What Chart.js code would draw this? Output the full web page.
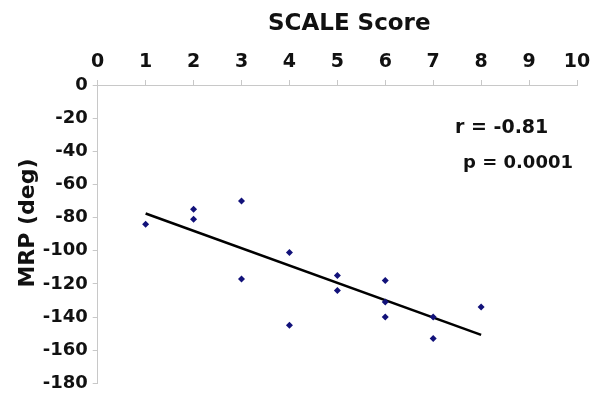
<!DOCTYPE html>
<html>
<head>
<meta charset="utf-8">
<script src="https://cdn.jsdelivr.net/npm/chart.js@4/dist/chart.umd.min.js"></script>
<style>
  html, body { margin: 0; padding: 0; background: #fff; }
  #wrap { width: 600px; height: 394px; }
</style>
</head>
<body>
<div id="wrap"><canvas id="chart"></canvas></div>
<script>
// SCALE score vs MRP
const scaleScores = [1, 2, 2, 3, 3, 4, 4, 5, 5, 6, 6, 6, 7, 7, 8];
const mrpValues = [-84, -75, -81, -70, -117, -101, -145, -115, -124, -118, -131, -140, -140, -153, -134];
const xTicks = [0, 1, 2, 3, 4, 5, 6, 7, 8, 9, 10];
const yTicks = [0, -20, -40, -60, -80, -100, -120, -140, -160, -180];
const statsText = ['r = -0.81', 'p = 0.0001'];

const FONT = '"DejaVu Sans", sans-serif';

// least squares fit for the trend line
function linearFit(xs, ys) {
    const n = xs.length;
    const mx = xs.reduce((a, b) => a + b, 0) / n;
    const my = ys.reduce((a, b) => a + b, 0) / n;
    let sxy = 0, sxx = 0;
    for (let i = 0; i < n; i++) {
        sxy += (xs[i] - mx) * (ys[i] - my);
        sxx += (xs[i] - mx) * (xs[i] - mx);
    }
    const slope = sxy / sxx;
    return { slope: slope, intercept: my - slope * mx };
}

const fit = linearFit(scaleScores, mrpValues);
const xMin = Math.min(...scaleScores);
const xMax = Math.max(...scaleScores);
const trend = [xMin, xMax].map(x => ({ x: x, y: fit.intercept + fit.slope * x }));

const points = scaleScores.map((x, i) => ({ x: x, y: mrpValues[i] }));

// axis titles and the r / p note
const textPlugin = {
    id: 'textLabels',
    afterDraw(chart) {
        const ctx = chart.ctx;
        ctx.save();
        ctx.fillStyle = '#111';
        ctx.textAlign = 'left';
        ctx.textBaseline = 'alphabetic';

        ctx.font = 'bold 23px ' + FONT;
        ctx.fillText('SCALE Score', 268, 30);

        ctx.font = 'bold 19px ' + FONT;
        ctx.fillText(statsText[0], 455, 133);
        ctx.font = 'bold 18px ' + FONT;
        ctx.fillText(statsText[1], 463, 168);

        ctx.translate(28, 223);
        ctx.rotate(-Math.PI / 2);
        ctx.textAlign = 'center';
        ctx.textBaseline = 'middle';
        ctx.font = 'bold 22px ' + FONT;
        ctx.fillText('MRP (deg)', 0, 0);
        ctx.restore();
    }
};

new Chart(document.getElementById('chart'), {
    type: 'scatter',
    data: {
        datasets: [
            {
                label: 'MRP',
                data: points,
                pointStyle: 'rectRot',
                pointRadius: 3.5,
                backgroundColor: '#12127a',
                borderColor: '#12127a',
                borderWidth: 0
            },
            {
                type: 'line',
                label: 'fit',
                data: trend,
                borderColor: '#000',
                borderWidth: 2.5,
                pointRadius: 0,
                fill: false
            }
        ]
    },
    options: {
        responsive: true,
        maintainAspectRatio: false,
        animation: false,
        layout: { padding: { left: 0, right: 23, top: 0, bottom: 10.7 } },
        plugins: {
            legend: { display: false },
            tooltip: { enabled: false }
        },
        scales: {
            x: {
                type: 'linear',
                position: 'top',
                min: 0,
                max: 10,
                afterFit: s => { s.height = 85; s.paddingLeft = 0; s.paddingRight = 0; },
                afterBuildTicks: s => { s.ticks = xTicks.map(v => ({ value: v })); },
                grid: { drawOnChartArea: false, drawTicks: true, tickLength: 5, color: '#c8c8c8' },
                border: { display: true, color: '#c8c8c8', width: 1 },
                ticks: {
                    color: '#111',
                    padding: 7,
                    font: { family: FONT, size: 19, weight: 'bold' }
                }
            },
            y: {
                type: 'linear',
                min: -180,
                max: 0,
                afterFit: s => { s.width = 97.7; s.paddingTop = 0; s.paddingBottom = 0; },
                afterBuildTicks: s => { s.ticks = yTicks.map(v => ({ value: v })); },
                grid: { drawOnChartArea: false, drawTicks: true, tickLength: 5, color: '#c8c8c8' },
                border: { display: true, color: '#c8c8c8', width: 1 },
                ticks: {
                    color: '#111',
                    padding: 5,
                    font: { family: FONT, size: 18, weight: 'bold' }
                }
            }
        }
    },
    plugins: [textPlugin]
});
</script>
</body>
</html>
